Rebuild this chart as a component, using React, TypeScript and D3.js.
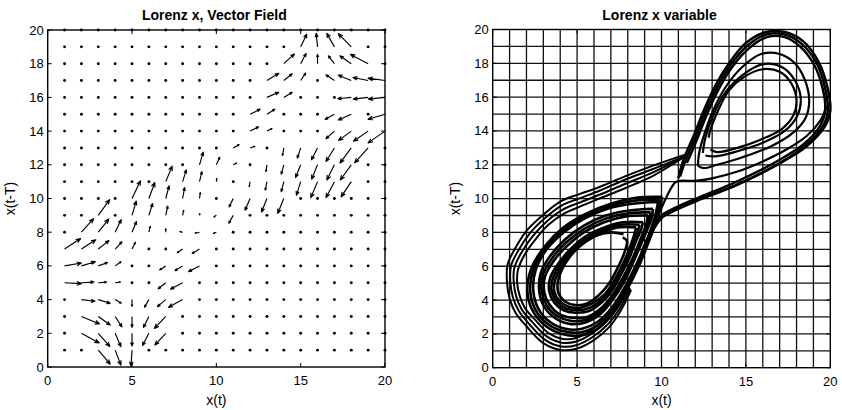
import React from 'react';
import * as d3 from 'd3';

const W = 842;
const H = 410;

// ---------- Left panel: quiver (x, y, u, v) in data units ----------
const gridVals = [1, 2, 3, 4, 5, 6, 7, 8, 9, 10, 11, 12, 13, 14, 15, 16, 17, 18, 19, 20];
const quiverArrows: number[][] = [
  [3, 1, 0.71, -0.83], [4, 1, 0.34, -0.89], [5, 1, -0.06, -0.95],
  [2, 2, 1.05, -0.57], [3, 2, 0.69, -0.79], [4, 2, 0.34, -0.79], [5, 2, 0, -0.75], [6, 2, -0.38, -0.73], [7, 2, -0.65, -0.7],
  [2, 3, 1.07, -0.45], [3, 3, 0.71, -0.51], [4, 3, 0.4, -0.62], [5, 3, 0, -0.65], [6, 3, -0.32, -0.65], [7, 3, -0.67, -0.71],
  [2, 4, 0.8, -0.1], [3, 4, 0.7, -0.22], [4, 4, 0.36, -0.22], [5, 4, 0, -0.4], [6, 4, -0.26, -0.45], [7, 4, -0.5, -0.42], [8, 4, -0.84, -0.46],
  [1, 5, 1.0, -0.05], [2, 5, 0.75, 0.04], [3, 5, 0.5, 0.04], [4, 5, 0.32, 0.04], [7, 5, -0.45, -0.36], [8, 5, -0.72, -0.38],
  [1, 6, 1.0, 0.17], [2, 6, 0.82, 0.25], [3, 6, 0.55, 0.2], [4, 6, 0.35, 0.25], [7, 6, -0.36, -0.24], [8, 6, -0.45, -0.28], [9, 6, -0.65, -0.34],
  [1, 7, 0.95, 0.62], [2, 7, 0.85, 0.55], [3, 7, 0.63, 0.5], [4, 7, 0.4, 0.43], [5, 7, 0.2, 0.4], [8, 7, -0.32, -0.22], [9, 7, -0.43, -0.26],
  [2, 8, 0.72, 0.8], [3, 8, 0.62, 0.78], [4, 8, 0.36, 0.75], [5, 8, 0.26, 0.63], [6, 8, 0.08, 0.35], [7, 8, 0, 0.2], [8, 8, -0.16, 0.04], [9, 8, -0.26, -0.06], [10, 8, -0.18, -0.08],
  [3, 9, 0.67, 0.93], [5, 9, 0.25, 0.85], [6, 9, 0.22, 0.7], [7, 9, 0.12, 0.55], [8, 9, 0.06, 0.3], [9, 9, 0.02, 0.1], [10, 9, -0.15, -0.1], [11, 9, -0.26, -0.47],
  [5, 10, 0.5, 1.05], [6, 10, 0.35, 0.95], [7, 10, 0.2, 0.75], [8, 10, 0.12, 0.65], [9, 10, 0.05, 0.35], [11, 10, -0.24, -0.5], [12, 10, -0.3, -0.7], [13, 10, -0.32, -0.8], [14, 10, -0.36, -0.88],
  [7, 11, 0.38, 0.92], [8, 11, 0.22, 0.7], [9, 11, 0.15, 0.6], [10, 11, 0.03, 0.2], [12, 11, -0.05, -0.3], [13, 11, -0.1, -0.5], [14, 11, -0.15, -0.6], [15, 11, -0.25, -0.8], [16, 11, -0.4, -0.95], [17, 11, -0.5, -0.95], [18, 11, -0.6, -0.9],
  [9, 12, 0.22, 0.75], [10, 12, 0.2, 0.45], [11, 12, 0.2, 0.1], [13, 12, -0.06, -0.4], [14, 12, -0.15, -0.55], [15, 12, -0.3, -0.75], [16, 12, -0.35, -0.85], [17, 12, -0.45, -0.9], [18, 12, -0.65, -0.9],
  [11, 13, 0.35, 0.2], [12, 13, 0.28, 0.1], [14, 13, -0.08, -0.45], [15, 13, -0.2, -0.6], [16, 13, -0.36, -0.7], [17, 13, -0.5, -0.8], [18, 13, -0.67, -0.9], [19, 13, -0.8, -0.88],
  [12, 14, 0.5, 0.25], [13, 14, 0.3, 0.15], [17, 14, -0.5, -0.45], [18, 14, -0.75, -0.55], [19, 14, -0.87, -0.6], [20, 14, -1.0, -0.7],
  [12, 15, 0.6, 0.3], [13, 15, 0.47, 0.3], [17, 15, -0.55, -0.3], [18, 15, -0.77, -0.34], [20, 15, -1.0, -0.3],
  [13, 16, 0.7, 0.3], [14, 16, 0.5, 0.3], [18, 16, -0.8, -0.08], [19, 16, -0.88, -0.1], [20, 16, -0.98, -0.1],
  [13, 17, 0.7, 0.43], [14, 17, 0.5, 0.4], [15, 17, 0.3, 0.45], [17, 17, -0.5, 0.34], [18, 17, -0.77, 0.32], [19, 17, -0.9, 0.18], [20, 17, -1.0, 0.14],
  [14, 18, 0.63, 0.58], [15, 18, 0.32, 0.6], [16, 18, 0, 0.55], [17, 18, -0.36, 0.47], [18, 18, -0.68, 0.47], [19, 18, -1.05, 0.55],
  [15, 19, 0.36, 0.75], [16, 19, -0.08, 0.8], [17, 19, -0.45, 0.8], [18, 19, -0.77, 0.78],
];

// ---------- Ticks ----------
const xTicks = [0, 5, 10, 15, 20];
const yTicks = [0, 2, 4, 6, 8, 10, 12, 14, 16, 18, 20];
const gridLines = [1, 2, 3, 4, 5, 6, 7, 8, 9, 10, 11, 12, 13, 14, 15, 16, 17, 18, 19];

// ---------- Right panel: trajectory pieces (x(t), x(t-T)) ----------
const outerA1 = [[11.4, 12.6], [9.5, 11.95], [7.8, 11.3], [6.36, 10.7], [5.1, 10.25], [4.05, 9.85], [3.0, 9.05], [2.05, 8.15], [1.3, 7.0], [0.88, 6.1], [0.85, 5.0], [1.0, 4.1], [1.35, 3.25], [2.0, 2.45], [3.0, 1.45], [4.0, 1.05], [4.95, 1.12], [5.95, 1.6], [6.9, 2.4], [7.6, 3.4], [8.2, 4.6]];
const outerA2 = [[11.35, 12.5], [9.5, 11.75], [7.8, 11.1], [6.36, 10.48], [5.1, 10.0], [4.1, 9.6], [3.1, 8.85], [2.2, 7.95], [1.5, 6.9], [1.08, 6.0], [1.05, 5.0], [1.2, 4.15], [1.55, 3.35], [2.15, 2.6], [3.1, 1.65], [4.05, 1.26], [4.95, 1.33], [5.9, 1.8], [6.85, 2.6], [7.55, 3.55], [8.15, 4.7]];
const outerA3 = [[11.3, 12.45], [9.5, 11.55], [7.8, 10.85], [6.36, 10.24], [5.1, 9.75], [4.15, 9.35], [3.2, 8.65], [2.35, 7.75], [1.7, 6.8], [1.28, 5.9], [1.25, 5.0], [1.4, 4.2], [1.72, 3.45], [2.3, 2.75], [3.2, 1.85], [4.1, 1.48], [4.95, 1.55], [5.85, 2.0], [6.8, 2.8], [7.5, 3.7], [8.1, 4.8]];
const outerA4 = [[11.25, 12.4], [9.5, 11.35], [7.8, 10.6], [6.36, 10.02], [5.1, 9.5], [4.2, 9.1], [3.3, 8.45], [2.5, 7.55], [1.9, 6.7], [1.5, 5.8], [1.45, 5.0], [1.6, 4.25], [1.9, 3.55], [2.45, 2.9], [3.3, 2.05], [4.15, 1.7], [4.95, 1.76], [5.8, 2.2], [6.75, 3.0], [7.45, 3.85], [8.05, 4.9]];

const coreC1 = [[10.05, 10.1], [8.5, 10.05], [7.0, 9.7], [5.5, 9.1], [4.2, 8.3], [3.1, 7.2], [2.3, 5.9], [2.05, 4.6], [2.35, 3.4], [3.1, 2.5], [4.1, 2.0], [5.2, 1.9], [6.2, 2.3], [7.1, 3.2], [7.9, 4.5], [8.7, 6.1], [9.3, 7.6], [9.8, 9.0], [10.05, 10.1]];
const coreC1b = [[9.9, 9.95], [8.4, 9.88], [6.9, 9.55], [5.45, 8.95], [4.2, 8.15], [3.15, 7.1], [2.42, 5.85], [2.22, 4.6], [2.52, 3.45], [3.25, 2.6], [4.2, 2.15], [5.25, 2.1], [6.2, 2.5], [7.1, 3.4], [7.9, 4.7], [8.65, 6.2], [9.25, 7.65], [9.7, 8.95], [9.9, 9.95]];
const coreC2 = [[9.8, 9.8], [8.3, 9.7], [6.8, 9.4], [5.4, 8.8], [4.2, 8.0], [3.2, 7.0], [2.55, 5.8], [2.4, 4.6], [2.7, 3.5], [3.4, 2.7], [4.3, 2.3], [5.3, 2.3], [6.2, 2.7], [7.1, 3.6], [7.9, 4.9], [8.6, 6.3], [9.2, 7.7], [9.6, 8.9], [9.8, 9.8]];
const coreC3 = [[9.5, 9.4], [8.1, 9.3], [6.7, 9.0], [5.4, 8.4], [4.3, 7.6], [3.4, 6.6], [2.85, 5.6], [2.75, 4.6], [3.0, 3.7], [3.6, 3.0], [4.5, 2.6], [5.4, 2.65], [6.3, 3.1], [7.1, 4.0], [7.8, 5.1], [8.4, 6.4], [9.0, 7.8], [9.4, 8.8], [9.5, 9.4]];
const coreC3b = [[9.35, 9.2], [8.0, 9.12], [6.65, 8.8], [5.4, 8.2], [4.35, 7.4], [3.5, 6.45], [2.97, 5.5], [2.9, 4.55], [3.18, 3.72], [3.75, 3.1], [4.6, 2.78], [5.5, 2.82], [6.35, 3.3], [7.1, 4.15], [7.75, 5.2], [8.35, 6.45], [8.9, 7.75], [9.25, 8.65], [9.35, 9.2]];
const coreC4 = [[9.2, 9.0], [7.9, 8.95], [6.6, 8.6], [5.4, 8.0], [4.4, 7.2], [3.6, 6.3], [3.1, 5.4], [3.05, 4.5], [3.35, 3.75], [3.9, 3.2], [4.7, 2.95], [5.6, 3.0], [6.4, 3.5], [7.1, 4.3], [7.7, 5.3], [8.3, 6.5], [8.8, 7.7], [9.1, 8.5], [9.2, 9.0]];
const coreC5 = [[8.9, 8.6], [7.7, 8.6], [6.5, 8.25], [5.4, 7.7], [4.5, 6.9], [3.85, 6.1], [3.4, 5.3], [3.35, 4.5], [3.65, 3.85], [4.2, 3.4], [4.9, 3.25], [5.7, 3.35], [6.5, 3.9], [7.1, 4.6], [7.6, 5.5], [8.1, 6.5], [8.5, 7.5], [8.8, 8.2], [8.9, 8.6]];
const coreC5b = [[8.7, 8.45], [7.55, 8.45], [6.45, 8.1], [5.45, 7.58], [4.6, 6.85], [3.97, 6.05], [3.55, 5.25], [3.5, 4.5], [3.8, 3.9], [4.35, 3.5], [5.05, 3.4], [5.8, 3.57], [6.55, 4.1], [7.1, 4.8], [7.6, 5.7], [8.05, 6.65], [8.4, 7.55], [8.65, 8.25], [8.7, 8.45]];
const coreC6 = [[8.5, 8.3], [7.4, 8.3], [6.4, 7.95], [5.5, 7.45], [4.7, 6.8], [4.1, 6.0], [3.7, 5.2], [3.65, 4.5], [3.95, 3.95], [4.5, 3.6], [5.2, 3.55], [5.9, 3.8], [6.6, 4.3], [7.1, 5.0], [7.6, 5.9], [8.0, 6.8], [8.3, 7.6], [8.5, 8.3]];
const coreC7 = [[7.75, 7.9], [7.0, 8.0], [6.1, 7.8], [5.3, 7.3], [4.6, 6.6], [4.1, 5.8], [3.85, 5.0], [3.9, 4.4], [4.3, 3.9], [4.9, 3.7], [5.6, 3.8], [6.3, 4.3], [6.9, 5.0], [7.4, 5.9], [7.8, 6.8], [7.95, 7.5], [7.7, 7.7]];

const bandO1 = [[11.0, 11.2], [11.3, 12.3], [11.9, 13.7], [12.5, 15.2], [13.2, 16.7], [14.0, 18.0], [15.0, 19.2], [16.2, 19.85], [17.3, 19.85], [18.4, 19.3], [19.3, 18.1], [19.85, 16.5], [20.0, 15.2], [19.7, 14.3], [18.6, 13.1], [17.2, 12.2], [15.8, 11.45], [14.2, 10.7], [12.3, 10.0], [10.9, 9.4], [10.0, 8.9], [9.3, 7.9], [8.8, 6.8]];
const bandO2 = [[11.1, 11.3], [11.4, 12.2], [12.0, 13.6], [12.6, 15.1], [13.3, 16.6], [14.1, 17.9], [15.1, 19.05], [16.2, 19.7], [17.3, 19.7], [18.3, 19.15], [19.2, 18.0], [19.7, 16.5], [19.85, 15.2], [19.55, 14.25], [18.5, 13.1], [17.1, 12.15], [15.7, 11.4], [14.1, 10.65], [12.3, 9.95], [10.9, 9.35], [10.0, 8.85], [9.35, 7.85], [8.85, 6.75]];
const bandO3 = [[11.5, 12.1], [12.1, 13.5], [12.7, 15.0], [13.4, 16.5], [14.2, 17.8], [15.2, 18.9], [16.25, 19.55], [17.3, 19.55], [18.2, 19.0], [19.05, 17.9], [19.55, 16.5], [19.7, 15.3], [19.4, 14.3], [18.4, 13.2], [17.0, 12.3], [15.6, 11.55], [14.0, 10.8], [12.3, 10.1], [10.9, 9.5], [10.0, 9.0], [9.4, 8.0]];
const hookS = [[8.9, 6.8], [9.4, 7.9], [9.9, 9.2], [10.4, 10.3], [10.8, 10.95], [11.1, 11.05], [12.0, 11.05], [13.0, 11.2], [14.5, 11.6], [16.0, 12.2], [17.4, 12.9], [18.6, 13.7], [19.4, 14.6], [19.8, 15.5]];
const innerR2 = [[12.15, 11.95], [12.25, 12.8], [12.6, 14.0], [13.1, 15.3], [13.8, 16.6], [14.8, 17.8], [15.9, 18.55], [17.0, 18.55], [17.9, 18.0], [18.5, 17.0], [18.75, 15.8], [18.55, 14.8], [17.8, 13.9], [16.5, 13.1], [14.8, 12.45], [13.3, 12.0], [12.5, 11.8], [12.15, 11.95]];
const innerR3 = [[12.45, 12.7], [12.6, 13.6], [13.1, 15.0], [13.8, 16.3], [14.8, 17.3], [16.0, 17.95], [17.1, 17.8], [17.9, 17.0], [18.25, 15.9], [18.05, 14.9], [17.3, 14.0], [16.0, 13.3], [14.5, 12.8], [13.2, 12.5], [12.6, 12.55]];
const innerR4 = [[12.8, 13.6], [12.85, 13.9], [13.35, 15.2], [14.0, 16.4], [14.9, 17.2], [16.0, 17.65], [17.0, 17.5], [17.7, 16.8], [18.0, 15.8], [17.8, 14.9], [17.1, 14.1], [15.9, 13.5], [14.5, 13.0], [13.3, 12.75], [12.9, 12.9]];

const outerLines = [outerA1, outerA2, outerA3, outerA4];
const coreLines = [coreC1, coreC1b, coreC2, coreC3, coreC3b, coreC4, coreC5, coreC5b, coreC6, coreC7];
const bandLines = [bandO1, bandO2, bandO3];
const rightLines = [hookS, innerR2, innerR3, innerR4];

const FONT = "'Liberation Sans', Arial, Helvetica, sans-serif";

function Frame({ x, y, title, xlabel, ylabel, ylabelX }: any) {
  const [x0, x1] = x.range();
  const [y0, y1] = y.range();
  const tl = 4;
  return (
    <g fontFamily={FONT}>
      <rect x={x0} y={y1} width={x1 - x0} height={y0 - y1} fill="none" stroke="#000" strokeWidth={1.4} />
      {xTicks.map((t) => (
        <g key={'xt' + t}>
          <line x1={x(t)} x2={x(t)} y1={y0} y2={y0 - tl} stroke="#000" />
          <line x1={x(t)} x2={x(t)} y1={y1} y2={y1 + tl} stroke="#000" />
          <text x={x(t)} y={y0 + 18} textAnchor="middle" fontSize={13}>{t}</text>
        </g>
      ))}
      {yTicks.map((t) => (
        <g key={'yt' + t}>
          <line x1={x0} x2={x0 + tl} y1={y(t)} y2={y(t)} stroke="#000" />
          <line x1={x1} x2={x1 - tl} y1={y(t)} y2={y(t)} stroke="#000" />
          <text x={x0 - 4} y={y(t) + 4.5} textAnchor="end" fontSize={13}>{t}</text>
        </g>
      ))}
      <text x={(x0 + x1) / 2 - 2} y={20} textAnchor="middle" fontSize={14} fontWeight="bold">{title}</text>
      <text x={(x0 + x1) / 2} y={405} textAnchor="middle" fontSize={14}>{xlabel}</text>
      <text transform={`translate(${ylabelX},${(y0 + y1) / 2}) rotate(-90)`} textAnchor="middle" fontSize={14}>{ylabel}</text>
    </g>
  );
}

export default function App() {
  const xL = d3.scaleLinear().domain([0, 20]).range([47.7, 385]);
  const yL = d3.scaleLinear().domain([0, 20]).range([367, 30]);
  const xR = d3.scaleLinear().domain([0, 20]).range([492.7, 830.3]);
  const yR = d3.scaleLinear().domain([0, 20]).range([367.7, 29.5]);

  const arrowKeys = new Set(quiverArrows.map((a) => a[0] + ',' + a[1]));
  const dots: number[][] = [];
  gridVals.forEach((gx) => gridVals.forEach((gy) => {
    if (!arrowKeys.has(gx + ',' + gy)) dots.push([gx, gy]);
  }));

  const arrowPaths = quiverArrows.map(([ax, ay, u, v]) => {
    const px0 = xL(ax), py0 = yL(ay), px1 = xL(ax + u), py1 = yL(ay + v);
    const dx = px1 - px0, dy = py1 - py0;
    const len = Math.hypot(dx, dy);
    const h = Math.max(1.5, Math.min(5, 0.3 * len));
    const ang = Math.atan2(dy, dx);
    const a = (22 * Math.PI) / 180;
    const hx1 = px1 - h * Math.cos(ang - a), hy1 = py1 - h * Math.sin(ang - a);
    const hx2 = px1 - h * Math.cos(ang + a), hy2 = py1 - h * Math.sin(ang + a);
    return `M${px0},${py0}L${px1},${py1}M${hx1},${hy1}L${px1},${py1}L${hx2},${hy2}`;
  });

  const lineR = d3.line<number[]>().x((d) => xR(d[0])).y((d) => yR(d[1])).curve(d3.curveCatmullRom.alpha(0.5));

  return (
    <svg width={W} height={H} style={{ position: 'absolute', left: 0, top: 0, background: '#fff' }}>
      <rect x={0} y={0} width={W} height={H} fill="#fff" />
      {/* Left: vector field */}
      <g>
        {dots.map(([gx, gy]) => (
          <circle key={'d' + gx + '_' + gy} cx={xL(gx)} cy={yL(gy)} r={1.45} fill="#000" />
        ))}
        {arrowPaths.map((p, i) => (
          <path key={'a' + i} d={p} fill="none" stroke="#000" strokeWidth={1.15} strokeLinejoin="round" />
        ))}
      </g>
      <Frame x={xL} y={yL} title="Lorenz x, Vector Field" xlabel="x(t)" ylabel="x(t-T)" ylabelX={15} />

      {/* Right: attractor in delay coordinates */}
      <g>
        {gridLines.map((g) => (
          <g key={'g' + g}>
            <line x1={xR(g)} x2={xR(g)} y1={yR(0)} y2={yR(20)} stroke="#111" strokeWidth={1.3} />
            <line x1={xR(0)} x2={xR(20)} y1={yR(g)} y2={yR(g)} stroke="#111" strokeWidth={1.3} />
          </g>
        ))}
        {outerLines.map((l, i) => (
          <path key={'o' + i} d={lineR(l) || ''} fill="none" stroke="#000" strokeWidth={2} strokeLinejoin="round" />
        ))}
        {coreLines.map((l, i) => (
          <path key={'c' + i} d={lineR(l) || ''} fill="none" stroke="#000" strokeWidth={2.6} strokeLinejoin="round" />
        ))}
        {bandLines.map((l, i) => (
          <path key={'b' + i} d={lineR(l) || ''} fill="none" stroke="#000" strokeWidth={2.5} strokeLinejoin="round" />
        ))}
        {rightLines.map((l, i) => (
          <path key={'r' + i} d={lineR(l) || ''} fill="none" stroke="#000" strokeWidth={2.2} strokeLinejoin="round" />
        ))}
      </g>
      <Frame x={xR} y={yR} title="Lorenz x variable" xlabel="x(t)" ylabel="x(t-T)" ylabelX={460} />
    </svg>
  );
}
